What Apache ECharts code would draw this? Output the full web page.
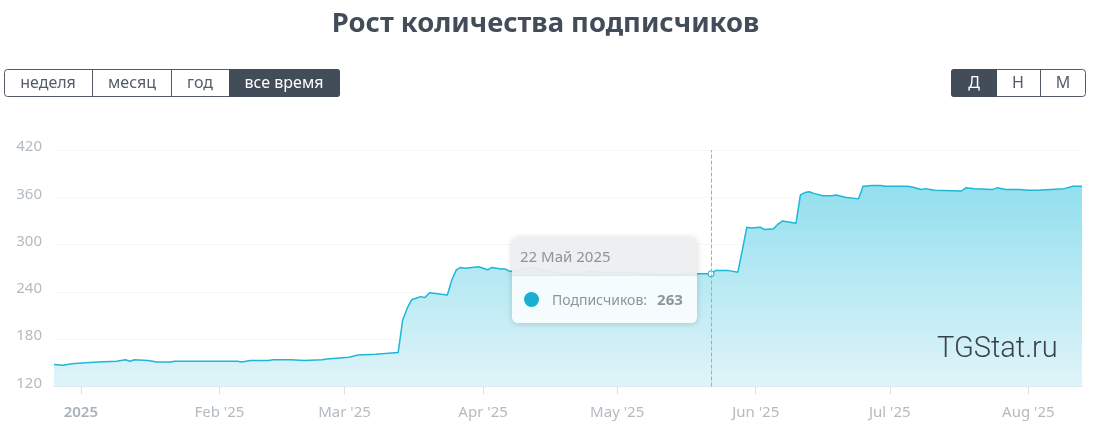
<!DOCTYPE html>
<html>
<head>
<meta charset="utf-8">
<title>Рост количества подписчиков</title>
<style>
  html, body { margin: 0; padding: 0; background: #fff; }
  #chart { width: 1097px; height: 436px; }
</style>
<script src="https://cdn.jsdelivr.net/npm/echarts@6/dist/echarts.min.js"></script>
</head>
<body>
<div id="chart"></div>
<script>
var dates = [
  "2024-12-26","2024-12-28","2024-12-30","2025-01-02","2025-01-05","2025-01-09","2025-01-11","2025-01-12","2025-01-13",
  "2025-01-16","2025-01-18","2025-01-21","2025-01-22","2025-02-05","2025-02-06","2025-02-08","2025-02-12","2025-02-13",
  "2025-02-16","2025-02-17","2025-02-20","2025-02-24","2025-02-25","2025-03-02","2025-03-04","2025-03-08","2025-03-13",
  "2025-03-14","2025-03-15","2025-03-16","2025-03-17","2025-03-18","2025-03-19","2025-03-20","2025-03-24","2025-03-25",
  "2025-03-26","2025-03-27","2025-03-28","2025-03-31","2025-04-02","2025-04-03","2025-04-05","2025-04-06","2025-04-07",
  "2025-04-09","2025-04-12","2025-04-14","2025-04-18","2025-04-22","2025-04-25","2025-04-29","2025-05-05","2025-05-13",
  "2025-05-17","2025-05-19","2025-05-22","2025-05-23","2025-05-26","2025-05-28","2025-05-29","2025-05-30","2025-05-31",
  "2025-06-02","2025-06-03","2025-06-05","2025-06-06","2025-06-07","2025-06-08","2025-06-10","2025-06-11","2025-06-12",
  "2025-06-13","2025-06-14","2025-06-16","2025-06-18","2025-06-19","2025-06-21","2025-06-24","2025-06-25","2025-06-27",
  "2025-06-29","2025-06-30","2025-07-05","2025-07-06","2025-07-08","2025-07-09","2025-07-11","2025-07-17","2025-07-18",
  "2025-07-20","2025-07-24","2025-07-25","2025-07-27","2025-07-30","2025-08-01","2025-08-03","2025-08-09","2025-08-11",
  "2025-08-13"
];
var subscribers = [
  148,147,149,150,151,152,154,152,154,
  153,151,151,152,152,151,153,153,154,
  154,154,153,154,155,157,160,161,163,
  204,219,230,232,234,233,239,236,255,
  268,271,270,272,268,271,269,269,266,
  268,271,268,264,262,266,264,264,261,
  264,263,263,267,267,265,293,322,321,
  322,319,320,326,330,329,327,363,366,
  367,365,362,362,363,360,358,374,375,
  375,374,374,373,370,371,369,368,372,
  371,370,372,370,370,369,369,371,374,
  374
];
var rangeLabels = ["неделя", "месяц", "год", "все время"];
var periodLabels = ["Д", "Н", "М"];
var tooltipDate = "22 Май 2025";
var tooltipIndex = dates.indexOf("2025-05-22");

var chart = echarts.init(document.getElementById("chart"));
var font = '"Noto Sans", sans-serif';
var dark = "#434c59";
var monthNames = ["{year|2025}", "Feb '25", "Mar '25", "Apr '25", "May '25", "Jun '25", "Jul '25", "Aug '25"];

function areaFill() {
  return new echarts.graphic.LinearGradient(0, 0, 0, 1, [{ offset: 0, color: "#93dfee" }, { offset: 1, color: "#e0f4f9" }]);
}

// button strips above the chart
function buttons(labels, edges, centers, active) {
  var items = [];
  var x0 = edges[0], x1 = edges[edges.length - 1];
  items.push({ type: "rect", shape: { x: x0 + 0.5, y: 69.5, width: x1 - x0 - 1, height: 27, r: 3 },
    style: { fill: "#fff", stroke: "#535b66", lineWidth: 1 } });
  labels.forEach(function (label, i) {
    if (i === active) {
      items.push({ type: "rect", shape: { x: edges[i], y: 69, width: edges[i + 1] - edges[i], height: 28,
        r: i === 0 ? [3, 0, 0, 3] : [0, 3, 3, 0] }, style: { fill: dark } });
    } else if (i > 0 && i - 1 !== active) {
      items.push({ type: "line", shape: { x1: edges[i] + 0.5, y1: 70, x2: edges[i] + 0.5, y2: 96 },
        style: { stroke: "#535b66", lineWidth: 1 } });
    }
    items.push({ type: "text", x: centers[i], y: 83, style: { text: label, font: "16px " + font,
      fill: i === active ? "#fff" : "#555d68", align: "center", verticalAlign: "middle" } });
  });
  return items;
}

var graphics = buttons(rangeLabels, [4, 92, 171, 229, 340], [48, 132, 200, 284], 3)
  .concat(buttons(periodLabels, [951, 997, 1040, 1086], [974, 1018, 1063], 0));
graphics.push({ type: "text", x: 937, y: 350, z: 5, style: { text: "TGStat.ru", font: '300 29px Roboto, sans-serif',
  fill: "#3a4149", align: "left", verticalAlign: "middle" } });

chart.setOption({
  animation: false,
  title: {
    text: "Рост количества подписчиков", left: 540.5, top: 6, textAlign: "center",
    textStyle: { fontFamily: font, fontWeight: 700, fontSize: 27.4, color: "#434c59" }
  },
  graphic: graphics,
  grid: { left: 54, right: 15, top: 150, bottom: 49.5 },
  tooltip: {
    trigger: "axis", alwaysShowContent: true, padding: 0, borderWidth: 0, transitionDuration: 0,
    backgroundColor: "rgba(255,255,255,0.85)",
    extraCssText: "border-radius:6px;box-shadow:0 1px 6px rgba(0,0,0,.16);overflow:hidden;",
    position: function () { return [512, 237]; },
    axisPointer: { type: "line", lineStyle: { type: "dashed", color: "#a3adb4", width: 1 } },
    formatter: function (params) {
      return '<div style="width:185px;font-family:Noto Sans,sans-serif;color:#8c959c;">' +
        '<div style="height:38px;line-height:39px;padding-left:8px;font-size:15px;background:rgba(225,229,231,.6);border-bottom:1px solid #e2e6e8;">' + tooltipDate + '</div>' +
        '<div style="height:47px;line-height:47px;font-size:14px;white-space:nowrap;">' +
        '<span style="display:inline-block;width:15px;height:15px;border-radius:50%;background:#1aaed0;margin:0 13px 0 12px;vertical-align:-2px;"></span>' +
        'Подписчиков:<b style="margin-left:10px;font-size:15px;font-weight:700;">' + params[0].value[1] + '</b></div></div>';
    }
  },
  xAxis: {
    type: "time", min: dates[0], max: dates[dates.length - 1],
    axisLine: { lineStyle: { color: "#dde1e4", width: 1 } },
    axisTick: { show: true, length: 8, lineStyle: { color: "#dde1e4" } },
    splitLine: { show: false },
    axisLabel: {
      color: "#b3bbc2", fontFamily: font, fontSize: 15, margin: 19, showMinLabel: false, showMaxLabel: false,
      rich: { year: { color: "#a9b2b9", fontFamily: font, fontSize: 15, fontWeight: 600 } },
      formatter: function (value) { return monthNames[new Date(value).getMonth()]; }
    }
  },
  yAxis: {
    type: "value", min: 120, max: 420, interval: 60,
    axisLine: { show: false }, axisTick: { show: false },
    splitLine: { lineStyle: { color: "#f5f7f8" } },
    axisLabel: { color: "#b3bbc2", fontFamily: font, fontSize: 15, margin: 12, verticalAlign: "bottom", lineHeight: 6 }
  },
  series: [{
    name: "Подписчики", type: "line", showSymbol: false, symbol: "circle", symbolSize: 5,
    data: dates.map(function (d, i) { return [d, subscribers[i]]; }),
    lineStyle: { width: 1.5, color: "#1ba8c6" },
    itemStyle: { color: "#fff", borderColor: "#1ba8c6", borderWidth: 1 },
    areaStyle: { opacity: 1, color: areaFill() },
    emphasis: { areaStyle: { opacity: 1, color: areaFill() } }
  }]
});

chart.dispatchAction({ type: "showTip", seriesIndex: 0, dataIndex: tooltipIndex });
</script>
</body>
</html>
